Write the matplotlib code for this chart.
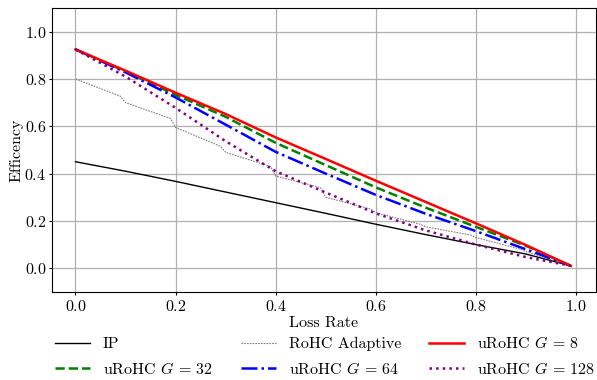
import numpy as np
import matplotlib
matplotlib.use("Agg")
import matplotlib.pyplot as plt

plt.rcParams['font.family'] = 'serif'
plt.rcParams['font.serif'] = ['cmr10', 'DejaVu Serif']
plt.rcParams['mathtext.fontset'] = 'cm'
plt.rcParams['axes.formatter.use_mathtext'] = True
plt.rcParams['font.size'] = 11.5
plt.rcParams['xtick.major.size'] = 2.5
plt.rcParams['ytick.major.size'] = 2.5
plt.rcParams['xtick.major.pad'] = 3.0
plt.rcParams['ytick.major.pad'] = 1.5

# ── Data ────────────────────────────────────────────────────
loss = [0.0, 0.1, 0.2, 0.3, 0.4, 0.5, 0.6, 0.7, 0.8, 0.9, 0.99]
ip = [0.45, 0.41, 0.367, 0.322, 0.277, 0.232, 0.186, 0.142, 0.10, 0.06, 0.01]
g8 = [0.925, 0.835, 0.742, 0.652, 0.553, 0.462, 0.37, 0.28, 0.19, 0.098, 0.01]
g32 = [0.925, 0.832, 0.733, 0.640, 0.530, 0.436, 0.342, 0.256, 0.175, 0.095, 0.01]
g64 = [0.925, 0.828, 0.722, 0.607, 0.492, 0.400, 0.310, 0.230, 0.157, 0.080, 0.01]
g128 = [0.925, 0.810, 0.678, 0.537, 0.410, 0.320, 0.232, 0.160, 0.100, 0.047, 0.01]

rohc_x = [0.0, 0.09, 0.10, 0.19, 0.20, 0.29, 0.30, 0.39, 0.40, 0.49, 0.50,
          0.59, 0.60, 0.69, 0.70, 0.79, 0.80, 0.89, 0.90, 0.99]
rohc_y = [0.80, 0.727, 0.70, 0.633, 0.595, 0.515, 0.49, 0.43, 0.39, 0.34, 0.30,
          0.25, 0.235, 0.185, 0.175, 0.14, 0.13, 0.08, 0.07, 0.01]

# ── Figure ──────────────────────────────────────────────────
fig = plt.figure(figsize=(5.97, 3.80), dpi=100)
ax = fig.add_axes([0.087, 0.232, 0.911, 0.747])

ax.plot(loss, ip, color='black', lw=1.0, label='IP')
ax.plot(loss, g32, color='green', lw=1.8, ls='--', label=r'uRoHC $G\,=\,32$')
ax.plot(rohc_x, rohc_y, color='grey', lw=0.8, ls=(0, (1.5, 1)), label='RoHC Adaptive')
ax.plot(loss, g64, color='blue', lw=1.8, ls='-.', label=r'uRoHC $G\,=\,64$')
ax.plot(loss, g8, color='red', lw=1.8, ls='-', label=r'uRoHC $G\,=\,8$')
ax.plot(loss, g128, color='purple', lw=1.8, ls=':', label=r'uRoHC $G\,=\,128$')

ax.set_xlim(-0.047, 1.04)
ax.set_ylim(-0.1, 1.1)
ax.set_xticks([0.0, 0.2, 0.4, 0.6, 0.8, 1.0])
ax.set_yticks([0.0, 0.2, 0.4, 0.6, 0.8, 1.0])
ax.grid(True, color='#b0b0b0', lw=0.9)
ax.set_axisbelow(True)
ax.set_xlabel('Loss Rate', labelpad=1)
ax.set_ylabel('Efficency', labelpad=1)

ax.legend(loc='upper left', bbox_to_anchor=(-0.006, -0.13), ncol=3,
          frameon=False, fontsize=11.5, handlelength=2.2, handletextpad=0.8,
          columnspacing=1.75, labelspacing=0.6, borderaxespad=0)

plt.savefig("out.png", dpi=100)
